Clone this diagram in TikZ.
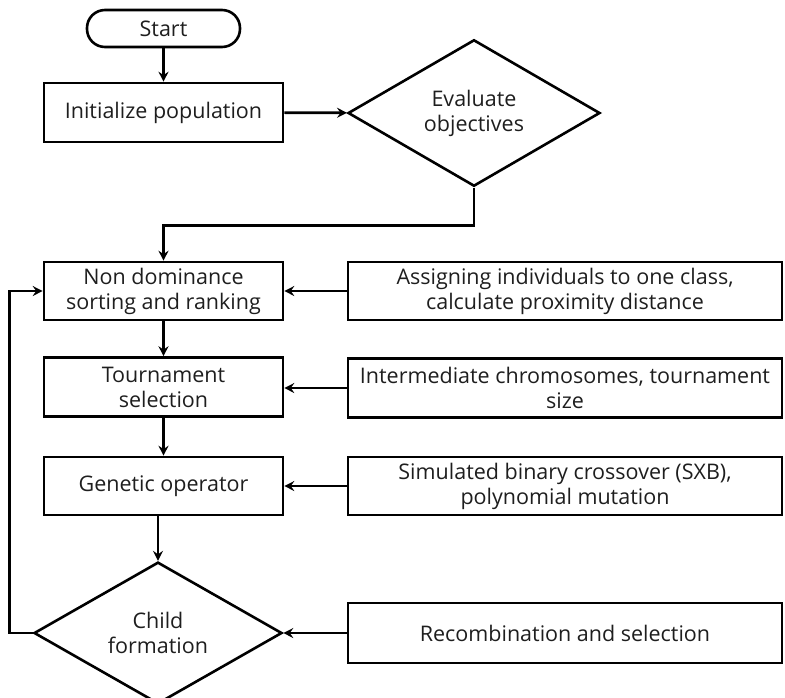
\documentclass[tikz,border=0pt]{standalone}
\usepackage{fontspec}
\setmainfont{Open Sans}
\usetikzlibrary{shapes.geometric,arrows.meta}
\definecolor{txt}{HTML}{1E1E1E}
\begin{document}
\begin{tikzpicture}[x=1pt,y=-1pt, line width=2.6pt,
  box/.style={draw, rectangle, inner sep=0pt, align=center, text=txt,
    font=\fontsize{21.5}{25}\selectfont},
  dia/.style={draw, diamond, inner sep=0pt, align=center, text=txt,
    font=\fontsize{21.5}{25}\selectfont},
  arr/.style={-{Stealth[length=10pt,width=10pt,inset=3.5pt]}}]
\useasboundingbox (0,0) rectangle (785,697);
\node[box, minimum width=153pt, minimum height=37pt, rounded corners=18pt] (start) at (163.5,28.5) {Start};
\node[box, minimum width=239pt, minimum height=59pt] (init) at (163.5,112.5) {Initialize population};
\node[dia, minimum width=252pt, minimum height=140pt] (eval) at (474,113) {Evaluate\\objectives};
\node[box, minimum width=239pt, minimum height=58pt] (nondom) at (163.5,291) {Non dominance\\sorting and ranking};
\node[box, minimum width=239pt, minimum height=59pt] (tourn) at (163.5,387) {Tournament\\selection};
\node[box, minimum width=239pt, minimum height=58pt] (gen) at (163.5,486) {Genetic operator};
\node[dia, minimum width=248pt, minimum height=136pt] (child) at (158,633) {Child\\formation};
\node[box, minimum width=434pt, minimum height=58pt] (assign) at (565,291) {Assigning individuals to one class,\\calculate proximity distance};
\node[box, minimum width=434pt, minimum height=59pt] (inter) at (565,388) {Intermediate chromosomes, tournament\\size};
\node[box, minimum width=434pt, minimum height=58pt] (sim) at (565,486) {Simulated binary crossover (SXB),\\polynomial mutation};
\node[box, minimum width=434pt, minimum height=60pt] (recomb) at (565,633) {Recombination and selection};
\draw[arr] (start) -- (init);
\draw[arr] (init) -- (eval);
\draw[arr] (eval.south) -- ++(0,38) -| (nondom.north);
\draw[arr] (nondom) -- (tourn);
\draw[arr] (tourn) -- (gen);
\draw[arr] (gen.south -| child.north) -- (child.north);
\draw[arr] (child.west) -- ++(-23,0) |- (nondom.west);
\draw[arr] (assign.west) -- (nondom.east);
\draw[arr] (inter.west) -- (tourn.east |- inter.west);
\draw[arr] (sim.west) -- (gen.east);
\draw[arr] (recomb.west) -- (child.east);
\end{tikzpicture}
\end{document}
